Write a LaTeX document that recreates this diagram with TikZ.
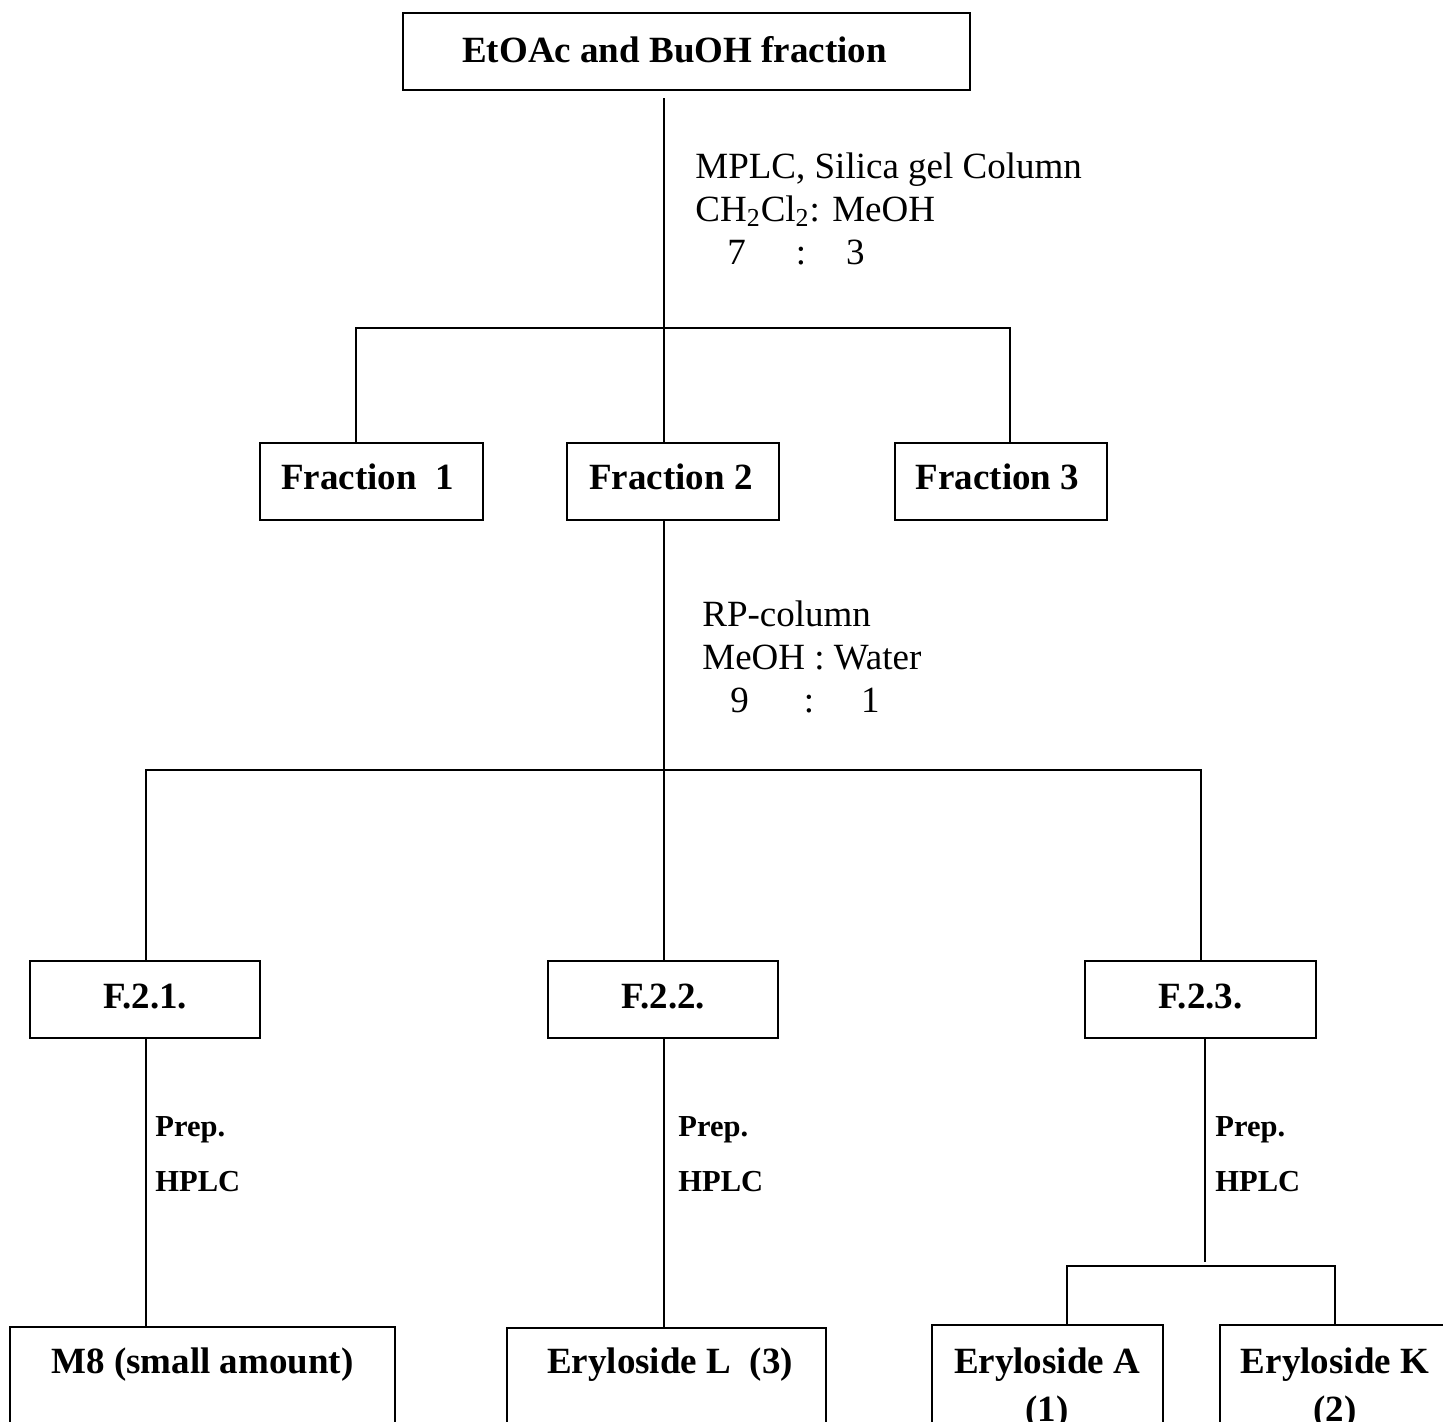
\documentclass[tikz,border=0pt]{standalone}
\usepackage{fontspec}
\setmainfont{Liberation Serif}
\begin{document}
\begin{tikzpicture}[x=0.5pt,y=-0.5pt,
  box/.style={draw, line width=1.1pt, inner sep=0pt, font=\fontsize{18.5}{22}\selectfont\bfseries},
  shell/.style={draw, line width=1.1pt, inner sep=0pt, minimum height=86.5pt},
  boxtext/.style={anchor=north, align=center, inner sep=0pt, font=\fontsize{18.5}{24}\selectfont\bfseries},
  link/.style={line width=1pt},
  cond/.style={anchor=north west, align=left, inner sep=0pt, font=\fontsize{18.5}{21.7}\selectfont},
  prep/.style={anchor=north west, align=left, inner sep=0pt, font=\fontsize{15.25}{27.5}\selectfont\bfseries},
]
\useasboundingbox (0,0) rectangle (1443,1421);
\clip (0,0) rectangle (1443,1421);

% source extract
\node[box, line width=1.4pt, minimum width=283.5pt, minimum height=38.5pt, text depth=2pt] (src) at (686.5,51.5) {EtOAc and BuOH fraction\hspace*{12pt}};

% first column fractions
\node[box, minimum width=111.5pt, minimum height=38.5pt, text depth=5pt] (fr1) at (371.5,481.5) {Fraction~~1\hspace*{4pt}};
\node[box, minimum width=106pt, minimum height=38.5pt, text depth=5pt] (fr2) at (673,481.5) {Fraction 2\hspace*{2pt}};
\node[box, minimum width=106pt, minimum height=38.5pt, text depth=5pt] (fr3) at (1001,481.5) {Fraction 3\hspace*{3.5pt}};

% sub-fractions of fraction 2
\node[box, minimum width=115pt, minimum height=38.5pt, text depth=3.5pt] (f21) at (145,999.5) {F.2.1.};
\node[box, minimum width=115pt, minimum height=38.5pt, text depth=3.5pt] (f22) at (663,999.5) {F.2.2.};
\node[box, minimum width=115.5pt, minimum height=38.5pt, text depth=3.5pt] (f23) at (1200.5,999.5) {F.2.3.};

% isolated compounds (boxes run past the lower edge)
\node[shell, minimum width=192.5pt] (m8) at (202.5,1413.5) {};
\node[shell, minimum width=159.5pt] (eryL) at (666.5,1414.5) {};
\node[shell, minimum width=115.5pt] (eryA) at (1047.5,1411.5) {};
\node[shell, minimum width=125pt] (eryK) at (1345,1411.5) {};
\node[boxtext] (m8t) at (202.5,1347) {M8 (small amount)};
\node[boxtext] (eryLt) at (670,1347) {Eryloside L~~(3)};
\node[boxtext] (eryAt) at (1047,1347) {Eryloside A\\(1)};
\node[boxtext] (eryKt) at (1335,1347) {Eryloside K\\(2)};

% separation conditions
\node[cond] (c1) at (695,152) {MPLC, Silica gel Column\\CH\textsubscript{2}Cl\textsubscript{2}: MeOH\\\hspace*{16pt}7\hspace{25pt}:\hspace{20pt}3};
\node[cond] (c2) at (702,600) {RP-column\\MeOH : Water\\\hspace*{14pt}9\hspace{27.5pt}:\hspace{23.5pt}1};
\node[prep] (p1) at (155,1116) {Prep.\\HPLC};
\node[prep] (p2) at (678,1116) {Prep.\\HPLC};
\node[prep] (p3) at (1215,1116) {Prep.\\HPLC};

% branch points
\coordinate (b1) at (664,328);
\coordinate (b1l) at (356,328);
\coordinate (b1r) at (1010,328);
\coordinate (b2) at (664,770);
\coordinate (b2l) at (146,770);
\coordinate (b2r) at (1201,770);
\coordinate (b3) at (1205,1266);
\coordinate (b3l) at (1067,1266);
\coordinate (b3r) at (1335,1266);

% connectors
\draw[link, shorten <=3.5pt] (src.south -| b1) -- (fr2.north -| b1);
\draw[link] (fr1.north -| b1l) -- (b1l) -- (b1r) -- (fr3.north -| b1r);
\draw[link] (fr2.south -| b2) -- (f22.north -| b2);
\draw[link] (f21.north -| b2l) -- (b2l) -- (b2r) -- (f23.north -| b2r);
\draw[link] (f21.south -| b2l) -- (m8.north -| b2l);
\draw[link] (f22.south -| b2) -- (eryL.north -| b2);
\draw[link, shorten >=2pt] (f23.south -| b3) -- (b3);
\draw[link] (eryA.north -| b3l) -- (b3l) -- (b3r) -- (eryK.north -| b3r);
\end{tikzpicture}
\end{document}
